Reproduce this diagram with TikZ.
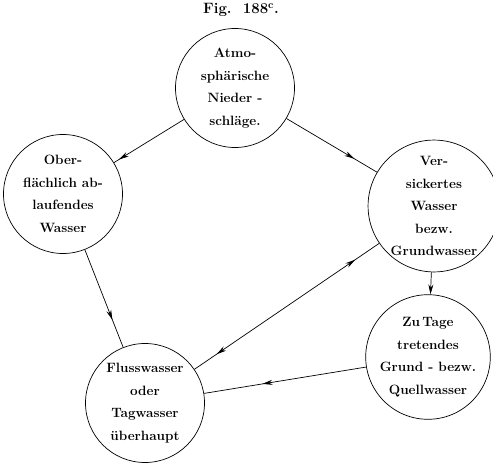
\documentclass[tikz,border=0pt]{standalone}
\usepackage{tikz}
\usetikzlibrary{decorations.markings,arrows.meta}

\begin{document}
\begin{tikzpicture}[x=1pt, y=-1pt, >={Stealth[length=10pt, width=5pt]},
		font=\bfseries\fontsize{13.5}{22.5}\selectfont,
		stage/.style={draw, line width=0.7pt, circle, minimum size=119pt, inner sep=0pt, align=center},
		flowat/.style={decoration={markings, mark=at position #1 with {\arrow{>}}}, postaction={decorate}},
		bothat/.style 2 args={decoration={markings, mark=at position #1 with {\arrowreversed{>}},
			mark=at position #2 with {\arrow{>}}}, postaction={decorate}}]
		\useasboundingbox (0,0) rectangle (493,465);
		\node[font=\bfseries\fontsize{15}{16}\selectfont] (title) at (241,10) {Fig.~~188\textsuperscript{c}.};
		\node[stage] (atmo)  at (235,88)  {Atmo-\\sphärische\\Nieder -\\schläge.};            % top
		\node[stage] (ober)  at (63,194)  {Ober-\\flächlich ab-\\laufendes\\Wasser};          % left
		\node[stage] (vers)  at (434,206) {Ver-\\sickertes\\Wasser\\bezw.\\Grundwasser};      % right
		\node[stage] (tage)  at (428,357) {Zu\,Tage\\tretendes\\Grund - bezw.\\Quellwasser};  % lower right
		\node[stage] (fluss) at (145,403) {Flusswasser\\oder\\Tagwasser\\überhaupt};         % lower left
		\draw[line width=0.7pt, flowat=0.93] (atmo) -- (ober);
		\draw[line width=0.7pt, flowat=0.75] (atmo) -- (vers);
		\draw[line width=0.7pt, flowat=0.72] (ober) -- (fluss);
		\draw[line width=0.7pt, ->] (vers) -- (tage);
		\draw[line width=0.7pt, flowat=0.64] (tage) -- (fluss);
		\draw[line width=0.7pt, bothat={0.12}{0.87}] (fluss) -- (vers);
	\end{tikzpicture}
\end{document}
